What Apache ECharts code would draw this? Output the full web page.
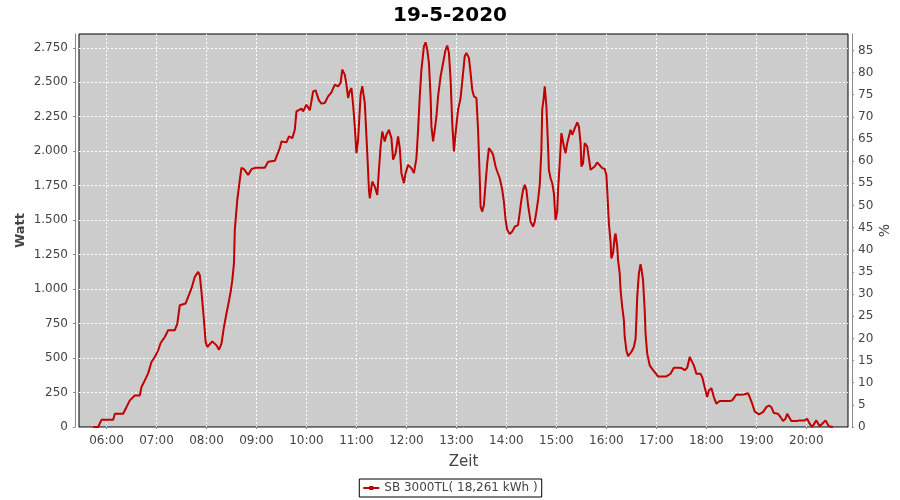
<!DOCTYPE html>
<html><head><meta charset="utf-8">
<script src="https://cdn.jsdelivr.net/npm/echarts@6/dist/echarts.min.js"></script>
<style>html,body{margin:0;padding:0;background:#fff}#c{width:900px;height:500px}</style>
</head><body><div id="c"></div>
<script>
const chartTitle = '19-5-2020';
const seriesName = 'SB 3000TL( 18,261 kWh )';
// time of day in minutes after midnight
const timeMinutes = [344,350,354,368,370,380,388,394,400,402,406,410,414,418,422,425,430,434,442,445,
448,455,458,462,466,470,472,474,477,479,481,487,492,495,498,501,504,506,509,511,
513,514,517,520,522,525,530,534,539,550,554,562,568,570,576,579,583,586,588,590,
594,596,600,604,606,608,611,615,618,622,626,630,634,638,641,643,646,648,650,652,
654,656,658,660,662,665,667,670,673,675,676,679,682,685,687,689,691,694,696,699,
702,704,707,710,712,714,717,719,722,726,729,732,734,736,738,741,743,745,747,749,
750,752,754,756,758,761,764,767,769,771,773,775,777,779,782,785,787,790,792,795,
797,799,801,804,806,808,809,811,813,815,817,819,822,824,827,829,832,835,837,839,
841,844,847,850,854,856,858,860,862,864,866,869,872,874,876,878,880,882,883,885,
886,888,890,891,893,895,897,899,901,902,904,906,907,909,911,913,915,917,919,921,
923,925,927,929,930,932,934,937,939,941,943,946,949,951,955,958,960,961,962,963,
965,966,968,970,971,973,974,976,977,979,981,982,984,986,988,990,993,995,996,997,
999,1001,1002,1004,1006,1007,1009,1012,1016,1022,1032,1034,1037,1041,1046,1050,1054,1057,1060,1062,
1065,1068,1073,1075,1078,1081,1083,1086,1089,1092,1096,1108,1111,1116,1120,1125,1130,1132,1135,1138,
1143,1148,1152,1155,1158,1161,1166,1169,1172,1175,1177,1179,1182,1188,1192,1198,1201,1204,1207,1212,
1216,1220,1223,1227,1232];
const watts = [0,0,52,52,96,96,193,229,229,290,338,389,471,508,556,609,653,702,702,750,
883,896,944,1005,1089,1125,1101,980,774,616,580,621,592,561,605,726,823,883,980,1065,
1186,1429,1647,1792,1880,1870,1828,1870,1880,1880,1923,1930,2022,2071,2064,2107,2095,2155,2289,2301,
2309,2289,2337,2297,2361,2434,2441,2369,2345,2350,2398,2427,2483,2470,2495,2592,2555,2483,2386,2434,
2458,2337,2180,1986,2083,2410,2471,2350,1986,1720,1659,1780,1744,1683,1865,2034,2143,2071,2119,2155,
2095,1938,1986,2107,2022,1841,1768,1841,1901,1877,1841,1950,2155,2398,2592,2761,2790,2737,2640,2398,
2180,2071,2155,2252,2398,2543,2640,2737,2766,2713,2519,2204,1998,2131,2301,2386,2507,2689,2713,2677,
2568,2446,2398,2386,2155,1804,1598,1562,1610,1768,1913,2022,1998,1974,1889,1853,1804,1720,1635,1501,
1429,1400,1417,1453,1465,1554,1647,1720,1756,1720,1610,1489,1453,1489,1562,1647,1756,2010,2301,2398,
2471,2325,2034,1865,1804,1768,1695,1501,1562,1720,1913,2131,2119,2034,1986,2059,2107,2155,2119,2107,
2180,2209,2180,2059,1889,1913,2059,2034,1950,1865,1853,1889,1918,1925,1877,1871,1828,1720,1598,1477,
1344,1223,1260,1380,1404,1308,1211,1114,993,872,775,653,557,513,513,544,580,640,775,944,
1114,1181,1150,1065,847,678,532,447,412,367,367,374,386,430,430,428,412,430,508,513,
447,387,387,362,289,217,265,282,217,169,188,188,193,236,234,236,245,217,169,113,
91,108,144,156,144,101,96,72,43,60,96,84,43,43,48,48,60,24,0,48,
5,29,48,5,0];
const xTickMinutes = [360,420,480,540,600,660,720,780,840,900,960,1020,1080,1140,1200];
const xTickLabels = ['06:00','07:00','08:00','09:00','10:00','11:00','12:00','13:00','14:00','15:00','16:00','17:00','18:00','19:00','20:00'];
const wattTicks = [0,250,500,750,1000,1250,1500,1750,2000,2250,2500,2750];
const percentTicks = [0,5,10,15,20,25,30,35,40,45,50,55,60,65,70,75,80,85];

const FONT = 'DejaVu Sans';
function fmtWatt(v) {
  if (v >= 1000) return Math.floor(v / 1000) + '.' + String(v % 1000).padStart(3, '0');
  return String(v);
}
const lineData = timeMinutes.map((t, i) => [t, watts[i]]);

const chart = echarts.init(document.getElementById('c'), null, {renderer: 'canvas'});
chart.setOption({
  animation: false,
  backgroundColor: '#ffffff',
  title: {
    text: chartTitle, left: 'center', top: 1,
    textStyle: {fontFamily: FONT, fontSize: 20, fontWeight: 'bold', color: '#000'}
  },
  legend: {
    bottom: 3, left: 'center',
    data: [seriesName],
    borderColor: '#000', borderWidth: 1, backgroundColor: '#fff',
    padding: [3, 4, 3, 3],
    itemWidth: 16, itemHeight: 5, itemGap: 4,
    textStyle: {fontFamily: FONT, fontSize: 12, color: '#444'}
  },
  grid: {
    left: 79, right: 52, top: 34, bottom: 73,
    containLabel: false, outerBoundsMode: 'none',
    show: true, backgroundColor: '#cccccc', borderColor: '#000', borderWidth: 1
  },
  xAxis: {
    type: 'value', min: 327, max: 1250, offset: 4,
    name: 'Zeit', nameLocation: 'middle', nameGap: 24,
    nameTextStyle: {fontFamily: FONT, fontSize: 15, color: '#444'},
    axisLine: {show: true, lineStyle: {color: '#888', width: 1}},
    axisTick: {show: true, length: 2, customValues: xTickMinutes, lineStyle: {color: '#888'}},
    axisLabel: {
      customValues: xTickMinutes, margin: 4,
      fontFamily: FONT, fontSize: 12, color: '#444',
      formatter: v => xTickLabels[xTickMinutes.indexOf(v)] || ''
    },
    splitLine: {show: true, lineStyle: {color: '#ffffff', width: 1, type: [2, 2]}}
  },
  yAxis: [{
    type: 'value', min: 0, max: 2850, offset: 4, position: 'left',
    name: 'Watt', nameLocation: 'middle', nameGap: 48, nameMoveOverlap: false,
    nameTextStyle: {fontFamily: FONT, fontSize: 13, fontWeight: 'bold', color: '#444'},
    axisLine: {show: true, lineStyle: {color: '#888', width: 1}},
    axisTick: {show: true, length: 2, customValues: wattTicks, lineStyle: {color: '#888'}},
    axisLabel: {
      customValues: wattTicks, margin: 7,
      fontFamily: FONT, fontSize: 12, color: '#444', formatter: fmtWatt
    },
    splitLine: {show: true, lineStyle: {color: '#ffffff', width: 1, type: [2, 2]}}
  }, {
    type: 'value', min: 0, max: 88.7, offset: 4, position: 'right',
    name: '%', nameLocation: 'middle', nameGap: 26, nameMoveOverlap: false,
    nameTextStyle: {fontFamily: FONT, fontSize: 14, color: '#444'},
    axisLine: {show: true, lineStyle: {color: '#888', width: 1}},
    axisTick: {show: true, length: 2, customValues: percentTicks, lineStyle: {color: '#888'}},
    axisLabel: {
      customValues: percentTicks, margin: 6,
      fontFamily: FONT, fontSize: 12, color: '#444'
    },
    splitLine: {show: false}
  }],
  series: [{
    name: seriesName, type: 'line', yAxisIndex: 0,
    data: lineData,
    symbol: 'rect', symbolSize: 4, showSymbol: false,
    lineStyle: {color: '#c00000', width: 2},
    itemStyle: {color: '#c00000'}
  }]
});
</script>
</body></html>
